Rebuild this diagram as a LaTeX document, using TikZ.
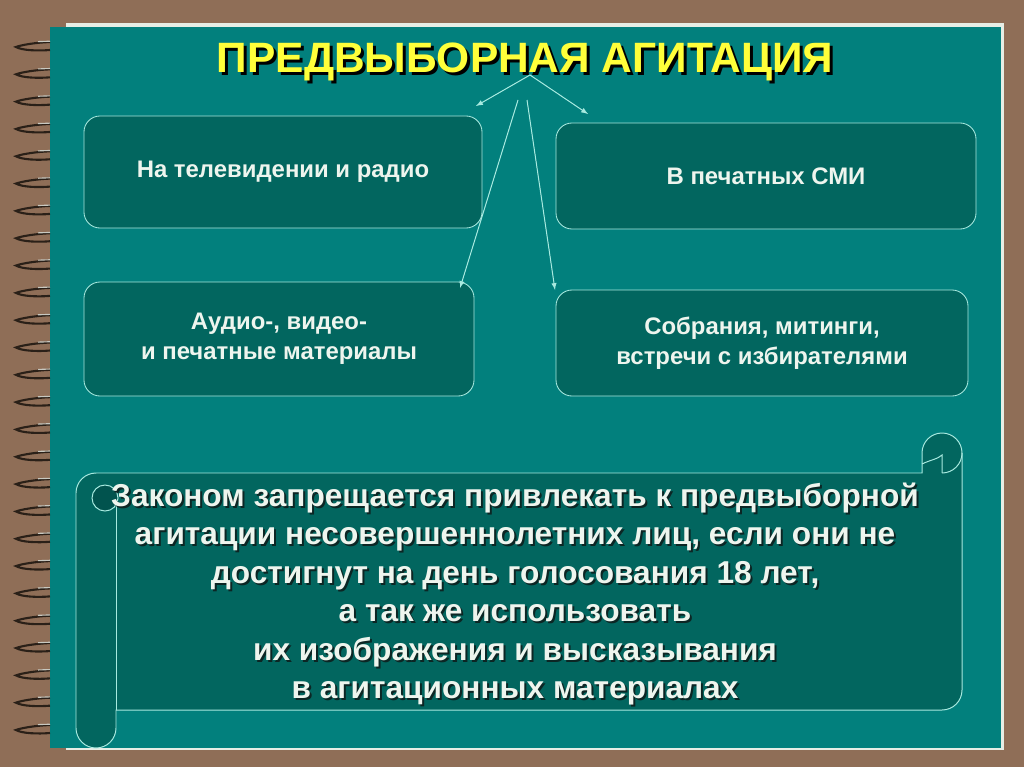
\documentclass[tikz,border=0pt]{standalone}
\usepackage{fontspec}
\setmainfont{Liberation Sans}
\definecolor{brownbg}{HTML}{8F6E57}
\definecolor{page}{HTML}{E6EEE6}
\definecolor{panel}{HTML}{02807D}
\definecolor{boxfill}{HTML}{02665F}
\definecolor{curlfill}{HTML}{01534E}
\definecolor{edge}{HTML}{A8EAE0}
\definecolor{boxtext}{HTML}{EEF5EE}
\definecolor{titletext}{HTML}{FFFF3A}
\definecolor{ringdark}{HTML}{2A2018}
\definecolor{ringlight}{HTML}{C8C8C0}
\definecolor{textshadow}{HTML}{0C2624}
\begin{document}
\begin{tikzpicture}[x=0.25mm, y=-0.25mm,
  box/.style={shape=rectangle, rounded corners=4mm, draw=edge, fill=boxfill, line width=0.6pt,
    text=boxtext, align=center, font=\bfseries\fontsize{17}{21.5}\selectfont},
  title/.style={font=\bfseries\fontsize{30.2}{36}\selectfont, text=titletext},
  law/.style={align=center, font=\bfseries\fontsize{22.5}{27.4}\selectfont, text=boxtext},
  arrow/.style={-latex, draw=edge, fill=edge, line width=0.7pt}]
  \useasboundingbox (0,0) rectangle (1024,767);
  % background, page and spiral
  \fill[brownbg] (0,0) rectangle (1024,767);
  \fill[page] (66,23) rectangle (1004,750);
  \fill[panel] (50,27) rectangle (1001,748);
  \foreach \i in {0,...,25} {
    \pgfmathsetmacro\y{47+27.32*\i}
    \draw[ringdark, line width=1.5pt] (50,\y-5) .. controls (36,\y-4.5) and (21,\y-2) .. (16,\y)
      .. controls (22,\y+3.5) and (38,\y+4) .. (50,\y+3);
    \draw[ringlight, line width=0.8pt] (38,\y-5.4) -- (50,\y-5.8);
  }
  % title
  \node[title, text=black] (0s) at (528,64.5) {ПРЕДВЫБОРНАЯ АГИТАЦИЯ};
  \node[title] (0) at (525,62) {ПРЕДВЫБОРНАЯ АГИТАЦИЯ};
  % boxes
  \node[box, minimum width=99.5mm, minimum height=28mm] (1) at (283,172) {На телевидении и радио};
  \node[box, minimum width=105mm, minimum height=26.5mm] (2) at (766,176) {В печатных СМИ};
  \node[box, minimum width=97.5mm, minimum height=28.5mm] (3) at (279,339) {Аудио-, видео-\\и печатные материалы};
  \node[box, minimum width=103mm, minimum height=26.5mm] (4) at (762,343) {Собрания, митинги,\\встречи с избирателями};
  % arrows
  \coordinate (a) at (530,75);
  \coordinate (b) at (518,100);
  \coordinate (c) at (527,100);
  \coordinate (1e) at (476,106);
  \coordinate (2e) at (588,114);
  \coordinate (3e) at (460,288);
  \coordinate (4e) at (555,290);
  \draw[arrow] (a) -- (1e);
  \draw[arrow] (a) -- (2e);
  \draw[arrow] (b) -- (3e);
  \draw[arrow] (c) -- (4e);
  % scroll
  \draw[draw=edge, fill=boxfill, line width=0.7pt] (96,473) -- (922,473) -- (922,453)
    arc[start angle=180, end angle=360, radius=20] -- (962,690)
    arc[start angle=0, end angle=90, radius=20] -- (116,710) -- (116,728)
    arc[start angle=0, end angle=180, radius=20] -- (76,493)
    arc[start angle=180, end angle=270, radius=20] -- cycle;
  \draw[draw=edge, line width=0.7pt] (116,498) -- (116,710);
  \draw[draw=edge, fill=curlfill, line width=0.7pt] (105,498) circle[radius=13];
  \draw[draw=edge, line width=0.7pt] (942,473) arc[start angle=90, end angle=0, radius=20];
  \draw[draw=edge, line width=0.7pt] (922,464) .. controls (930,460) and (938,459) .. (942,455) -- (942,473);
  \node[law, text=textshadow] (5s) at (517,596) {Законом запрещается привлекать к предвыборной\\агитации несовершеннолетних лиц, если они не\\достигнут на день голосования 18 лет,\\а так же использовать\\их изображения и высказывания\\в агитационных материалах};
  \node[law] (5) at (515,594) {Законом запрещается привлекать к предвыборной\\агитации несовершеннолетних лиц, если они не\\достигнут на день голосования 18 лет,\\а так же использовать\\их изображения и высказывания\\в агитационных материалах};
\end{tikzpicture}
\end{document}
